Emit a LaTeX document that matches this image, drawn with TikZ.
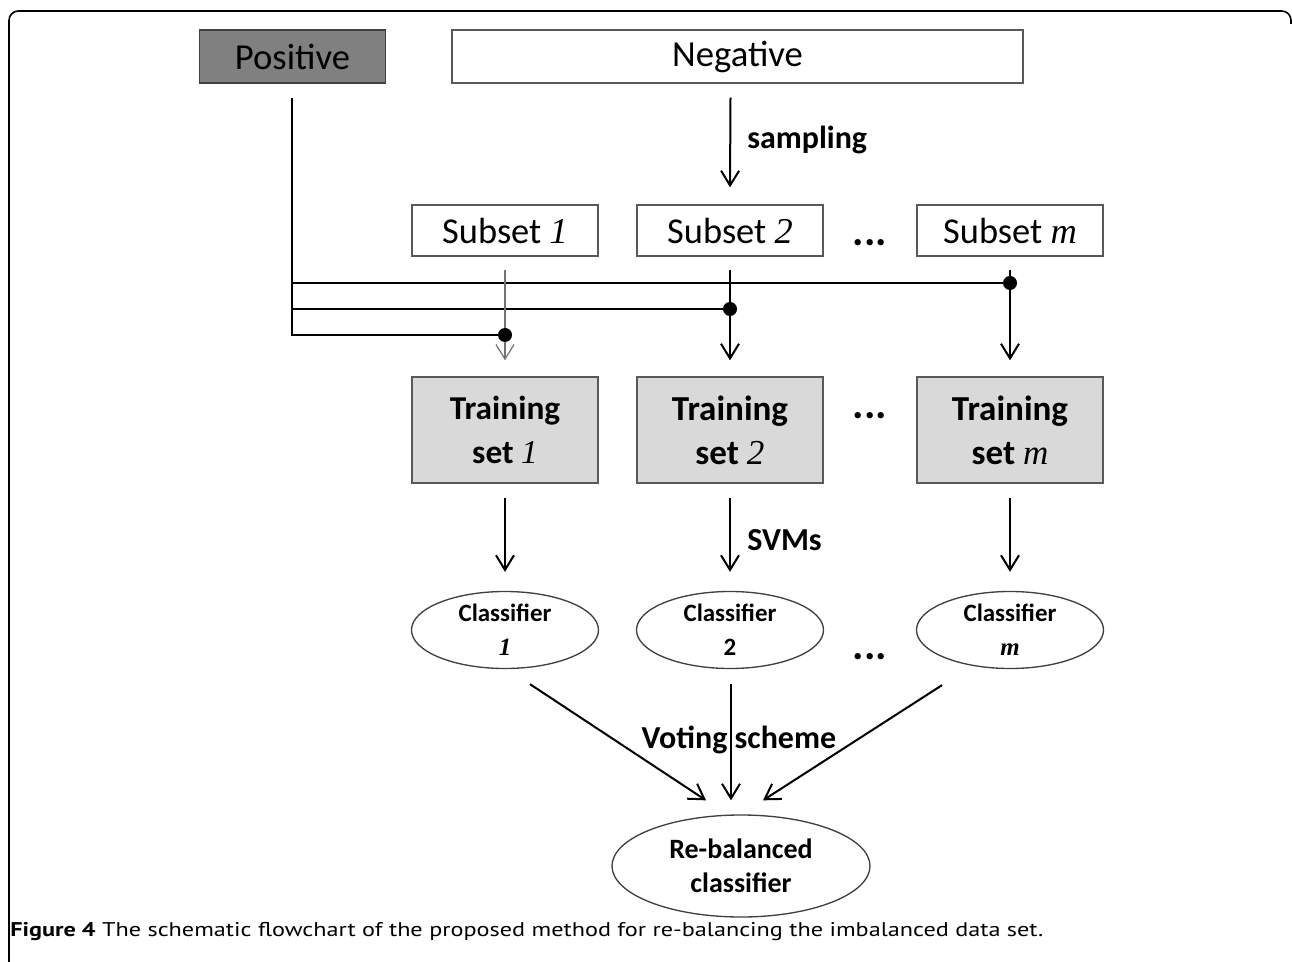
\documentclass[tikz,border=0pt]{standalone}
\usepackage{fontspec}
\usepackage{graphicx}
\setmainfont{Carlito}
\newfontfamily\serifit{Liberation Serif}
\newfontfamily\capfont{PT Sans}
\usetikzlibrary{arrows.meta,shapes.geometric,calc}
\newcommand\numit{\serifit\itshape}
\begin{document}
\begin{tikzpicture}[x=0.75pt,y=-0.75pt,
  ln/.style={line width=1.5pt, black},
  arr/.style={ln, -{Straight Barb[length=11pt,width=13.5pt]}},
  thinarr/.style={line width=0.9pt, black!55, -{Straight Barb[length=11pt,width=13.5pt]}},
  rbox/.style={draw=black!65, line width=1pt, inner sep=0pt, minimum width=139.5pt},
  trbox/.style={rbox, fill=black!15, minimum height=79.5pt, align=center},
  clell/.style={draw=black!75, line width=1pt, ellipse, inner sep=0pt, minimum width=140.25pt, minimum height=57.75pt, align=center, font=\bfseries\fontsize{18.7}{25.5}\selectfont},
  lbl/.style={font=\bfseries\fontsize{24}{28}\selectfont, inner sep=0pt},
  dotsn/.style={font=\bfseries\fontsize{32}{32}\selectfont, inner sep=0pt, anchor=base},
  jdot/.style={fill=black}
]
\useasboundingbox (0,0) rectangle (1292,962);
\fill[white] (0,0) rectangle (1292,962);
% frame
\draw[line width=1.2pt, rounded corners=7pt] (9,962) -- (9,11) -- (1291,11) -- (1291,24);

% top boxes
\node[rbox, draw=black!75, fill=black!50, minimum height=39.75pt, font=\fontsize{27.5}{30}\selectfont] (pos) at (292.5,56.5) {Positive};
\node[rbox, minimum width=428.25pt, minimum height=39.75pt, font=\fontsize{27.5}{30}\selectfont] (neg) at (737.5,56.5) {Negative};

% subsets
\node[rbox, minimum height=38.25pt, font=\fontsize{27.3}{30}\selectfont] (s1) at (505,230.5) {Subset {\numit 1}};
\node[rbox, minimum height=38.25pt, font=\fontsize{27.3}{30}\selectfont] (s2) at (730,230.5) {Subset {\numit 2}};
\node[rbox, minimum height=38.25pt, font=\fontsize{27.3}{30}\selectfont] (sm) at (1010,230.5) {Subset {\numit m}};
\node[dotsn] (d1) at (870,246) {...};

% training sets
\node[trbox, font=\bfseries\fontsize{25}{33}\selectfont] (t1) at (505,430) {Training\\set {\numit\mdseries 1}};
\node[trbox, font=\bfseries\fontsize{26.3}{33}\selectfont] (t2) at (730,430) {Training\\set {\numit\mdseries 2}};
\node[trbox, font=\bfseries\fontsize{26.3}{33}\selectfont] (tm) at (1010,430) {Training\\set {\numit\mdseries m}};
\node[dotsn] (d2) at (870,418) {...};

% classifiers
\node[clell] (c1) at (505,630) {Classifier\\{\numit\bfseries 1}};
\node[clell] (c2) at (730,630) {Classifier\\2};
\node[clell] (cm) at (1010,630) {Classifier\\{\numit\bfseries m}};
\node[dotsn] (d3) at (870,659) {...};

% final
\node[draw=black!75, line width=1pt, ellipse, inner sep=0pt, minimum width=193.5pt, minimum height=76.5pt, align=center, font=\bfseries\fontsize{21}{25.5}\selectfont] (rb) at (741,866) {Re-balanced\\classifier};

% labels
\node[lbl, anchor=west] (samp) at (747,140) {sampling};
\node[lbl, anchor=west] (svm) at (747,540) {SVMs};
\node[lbl] (vote) at (739,740) {Voting scheme};

% positive wiring
\coordinate (p0) at ($(pos.south)+(-0.5,14)$);
\coordinate (pb) at (292,335);
\coordinate (jm) at (1010,283);
\coordinate (j2) at (730,309);
\coordinate (j1) at (505,335);
\draw[ln] (p0) -- (pb) -- (j1);
\draw[ln] (292,283) -- (jm);
\draw[ln] (292,309) -- (j2);

% sampling
\draw[arr] ($(neg.south)+(-7,14)$) -- ($(s2.north)+(0,-17)$);

% subsets to training
\draw[thinarr] ($(s1.south)+(0,13)$) -- ($(t1.north)+(0,-16)$);
\draw[arr] ($(s2.south)+(0,13)$) -- ($(t2.north)+(0,-16)$);
\draw[arr] ($(sm.south)+(0,13)$) -- ($(tm.north)+(0,-16)$);
\fill[jdot] (j1) circle[radius=5.25pt];
\fill[jdot] (j2) circle[radius=5.25pt];
\fill[jdot] (jm) circle[radius=5.25pt];

% training to classifiers
\draw[arr] ($(t1.south)+(0,14)$) -- ($(c1.north)+(0,-19)$);
\draw[arr] ($(t2.south)+(0,14)$) -- ($(c2.north)+(0,-19)$);
\draw[arr] ($(tm.south)+(0,14)$) -- ($(cm.north)+(0,-19)$);

% voting
\draw[arr] ($(c1.south)+(25,15)$) -- ($(rb.north)+(-35,-14)$);
\draw[arr] ($(c2.south)+(1,15)$) -- ($(rb.north)+(-10,-14)$);
\draw[arr] ($(cm.south)+(-68,16)$) -- ($(rb.north)+(22,-14)$);

% caption
\node[anchor=west, inner sep=0pt] (cap) at (10,932) {\scalebox{1}[0.82]{\resizebox{774.75pt}{!}{\capfont\textbf{Figure 4} The schematic flowchart of the proposed method for re-balancing the imbalanced data set.}}};
\end{tikzpicture}
\end{document}
